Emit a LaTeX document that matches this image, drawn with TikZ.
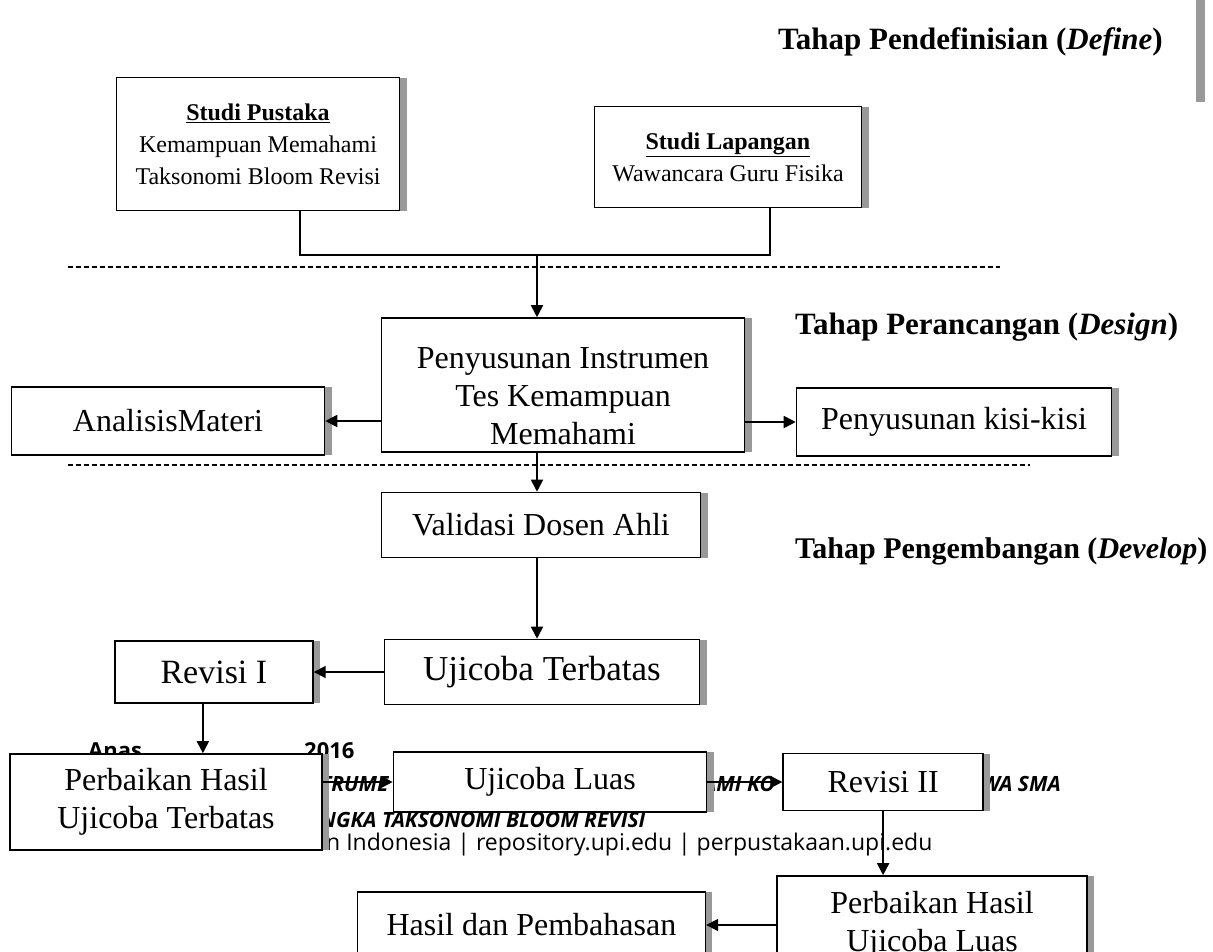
\documentclass[tikz,border=0pt]{standalone}
\usepackage{fontspec}
\setmainfont{Liberation Serif}
\newfontfamily\footfont{Open Sans}
\usepackage{tikz}
\usetikzlibrary{arrows.meta,positioning,shadows}
\newcommand{\bigtxt}{\fontsize{32}{38}\selectfont}
\newcommand{\studitxt}{\fontsize{24}{32}\selectfont}
\newcommand{\tahaptxt}{\fontsize{31}{36}\selectfont\bfseries}
\newcommand{\foottxt}{\footfont\fontsize{23}{26}\selectfont}
\newcommand{\judultxt}{\footfont\fontsize{21}{26}\selectfont\bfseries\itshape}

\begin{document}
\begin{tikzpicture}[x=1pt, y=1pt,
  box/.style={draw, line width=1.6pt, fill=white, inner sep=0pt, align=center, font=\bigtxt,
    drop shadow={shadow xshift=7pt, shadow yshift=0pt, fill=black!40, opacity=1}},
  arrow/.style={-{Triangle[length=12pt, width=12pt]}, line width=1.8pt},
  link/.style={line width=1.8pt},
  sep/.style={dash pattern=on 5pt off 3pt, line width=1.1pt},
  tahap/.style={font=\tahaptxt, inner sep=0pt},
  foot/.style={font=\judultxt, inner sep=0pt, anchor=west}
]
\useasboundingbox (0,0) rectangle (1213,-951);

% page footer, partly under the boxes
\node[foot, font=\footfont\fontsize{22}{26}\selectfont\bfseries] (anas) at (88,-751) {Anas};
\node[foot, font=\footfont\fontsize{22}{26}\selectfont\bfseries] (tahun) at (304,-751) {2016};
\node[foot] (judula) at (320,-784) {TRUME};
\node[foot] (judulb) at (703,-784) {AMI KO};
\node[foot] (judulc) at (970,-784) {SWA SMA};
\node[foot] (juduld) at (320,-820) {NGKA TAKSONOMI BLOOM REVISI};
\node[foot, font=\foottxt] (univ) at (326,-845) {n Indonesia | repository.upi.edu | perpustakaan.upi.edu};

% stages
\node[tahap, anchor=east] (define) at (1163,-42) {Tahap Pendefinisian (\textit{Define})};
\node[tahap, anchor=west] (design) at (795,-327) {Tahap Perancangan (\textit{Design})};
\node[tahap, font=\fontsize{30}{36}\selectfont\bfseries, anchor=west] (develop) at (795,-551) {Tahap Pengembangan (\textit{Develop})};
\fill[black!40] (1196,0) rectangle (1205,-102);
\draw[sep] (68,-267) -- (1000,-267);
\draw[sep] (68,-465) -- (1030,-465);

% define
\node[box, font=\studitxt, minimum width=283pt, minimum height=133pt] (pustaka) at (258,-144)
  {\underline{\textbf{Studi Pustaka}}\\Kemampuan Memahami\\Taksonomi Bloom Revisi};
\node[box, font=\studitxt, minimum width=267pt, minimum height=101pt] (lapangan) at (728,-157)
  {\underline{\textbf{Studi Lapangan}}\\Wawancara Guru Fisika};
\coordinate (join) at (537,-255);

% design
\node[box, minimum width=363pt, minimum height=134pt] (susun) at (563,-385)
  {\rule{0pt}{44pt}Penyusunan Instrumen\\Tes Kemampuan\\Memahami};
\node[box, minimum width=313pt, minimum height=68pt] (analisis) at (168,-421) {AnalisisMateri};
\node[box, minimum width=315pt, minimum height=68pt] (kisi) at (954,-422) {Penyusunan kisi-kisi};

% develop
\node[box, minimum width=319pt, minimum height=65pt] (validasi) at (541,-525) {Validasi Dosen Ahli};
\node[box, font=\fontsize{35}{40}\selectfont, minimum width=315pt, minimum height=65pt] (terbatas) at (542,-672) {Ujicoba Terbatas};
\node[box, font=\fontsize{34}{40}\selectfont, minimum width=198pt, minimum height=62pt, left=70pt of terbatas] (revisia) {Revisi I};
\node[box, minimum width=312pt, minimum height=96pt] (perbaikana) at (166,-802) {Perbaikan Hasil\\Ujicoba Terbatas};
\node[box, minimum width=313pt, minimum height=60pt] (luas) at (550,-782) {Ujicoba Luas};
\node[box, minimum width=200pt, minimum height=57pt, right=75pt of luas] (revisib) {Revisi II};
\node[box, minimum width=310pt, minimum height=98pt] (perbaikanb) at (932,-925) {Perbaikan Hasil\\Ujicoba Luas};
\node[box, minimum width=348pt, minimum height=66pt, left=70pt of perbaikanb] (hasil) {Hasil dan Pembahasan};

\draw[link] ([xshift=42pt]pustaka.south) |- (join) -| ([xshift=42pt]lapangan.south);
\draw[arrow] (join) -- (join |- susun.north);
\draw[arrow] (susun.west |- analisis) -- (analisis.east);
\draw[arrow] (susun.east |- kisi) -- (kisi.west);
\draw[arrow] (susun.south -| join) -- (validasi.north -| join);
\draw[arrow] (validasi.south -| join) -- (terbatas.north -| join);
\draw[arrow] (terbatas.west) -- (revisia.east);
\draw[arrow] ([xshift=-11pt]revisia.south) -- ([xshift=-11pt]revisia.south |- perbaikana.north);
\draw[arrow] (luas.west -| perbaikana.east) -- (luas.west);
\draw[arrow] (luas.east) -- (revisib.west);
\draw[arrow] (revisib.south) -- (revisib.south |- perbaikanb.north);
\draw[arrow] (perbaikanb.west |- hasil) -- (hasil.east);
\end{tikzpicture}
\end{document}
